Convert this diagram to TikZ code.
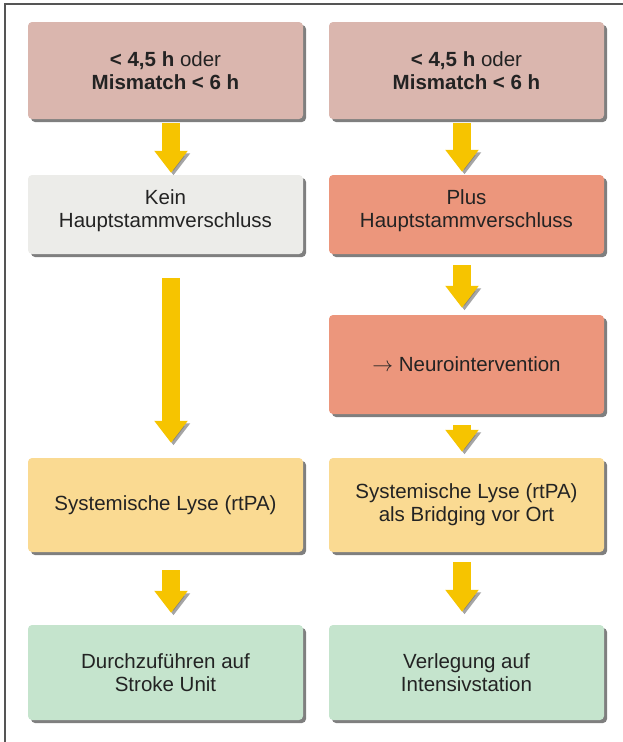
\documentclass[tikz,border=0pt]{standalone}
\usepackage{fontspec}
\setmainfont{Liberation Sans}
\usetikzlibrary{arrows.meta,shadows}
\definecolor{rosa}{RGB}{218,182,174}
\definecolor{hellgrau}{RGB}{236,236,233}
\definecolor{lachs}{RGB}{236,150,124}
\definecolor{sandgelb}{RGB}{250,218,146}
\definecolor{mintgruen}{RGB}{197,228,205}
\definecolor{pfeilgelb}{RGB}{246,196,0}
\definecolor{schatten}{RGB}{105,105,105}
\definecolor{rahmen}{RGB}{85,85,85}
\definecolor{schrift}{RGB}{35,35,35}

\begin{document}
\begin{tikzpicture}[x=1pt,y=-1pt,
    kasten/.style={rounded corners=4pt, minimum width=275pt, align=center,
        font=\fontsize{20.5}{23}\selectfont, text=schrift, inner sep=0pt,
        drop shadow={shadow xshift=3pt, shadow yshift=-3pt, fill=schatten, opacity=0.85}},
    pfeil/.style={line width=18pt, draw=pfeilgelb, -{Triangle[width=32pt,length=22pt]},
        preaction={draw=schatten, opacity=0.6, transform canvas={shift={(2.5pt,-2.5pt)}}}}]
    \useasboundingbox (0,0) rectangle (623,742);
    % frame, only top and left edge visible
    \draw[rahmen, line width=1.5pt] (623,4) -- (5,4) -- (5,742);

    % first row - time window
    \node[kasten, fill=rosa, minimum height=97pt] (zeitL) at (165.5,70.5)
        {\textbf{< 4,5 h} oder\\\textbf{Mismatch < 6 h}};
    \node[kasten, fill=rosa, minimum height=97pt] (zeitR) at (466.5,70.5)
        {\textbf{< 4,5 h} oder\\\textbf{Mismatch < 6 h}};

    % second row - occlusion
    \node[kasten, fill=hellgrau, minimum height=79pt] (kein) at (165.5,214.5)
        {Kein\\Hauptstammverschluss\vphantom{p}\\[-18pt]\strut};
    \node[kasten, fill=lachs, minimum height=79pt] (plus) at (466.5,214.5)
        {Plus\\Hauptstammverschluss\vphantom{p}\\[-18pt]\strut};

    % neurointervention, right only
    \node[kasten, fill=lachs, minimum height=99pt] (neuro) at (466.5,364.5)
        {$\rightarrow$ Neurointervention};

    % lysis
    \node[kasten, fill=sandgelb, minimum height=94pt] (lyseL) at (165.5,505)
        {Systemische Lyse (rtPA)};
    \node[kasten, fill=sandgelb, minimum height=94pt] (lyseR) at (466.5,505)
        {Systemische Lyse (rtPA)\\als Bridging vor Ort};

    % where to treat
    \node[kasten, fill=mintgruen, minimum height=95pt] (strokeunit) at (165.5,672.5)
        {Durchzuführen auf\\Stroke Unit};
    \node[kasten, fill=mintgruen, minimum height=95pt] (intensiv) at (466.5,672.5)
        {Verlegung auf\\Intensivstation};

    % arrows left
    \draw[pfeil, shorten <=4pt, shorten >=2pt] ([xshift=5.5pt]zeitL.south) -- ([xshift=5.5pt]kein.north);
    \draw[pfeil, shorten <=24pt, shorten >=15pt] ([xshift=5.5pt]kein.south) -- ([xshift=5.5pt]lyseL.north);
    \draw[pfeil, shorten <=18pt, shorten >=12pt] ([xshift=5.5pt]lyseL.south) -- ([xshift=5.5pt]strokeunit.north);

    % arrows right
    \draw[pfeil, shorten <=4pt, shorten >=3pt] ([xshift=-4.5pt]zeitR.south) -- ([xshift=-4.5pt]plus.north);
    \draw[pfeil, shorten <=11pt, shorten >=7pt] ([xshift=-4.5pt]plus.south) -- ([xshift=-4.5pt]neuro.north);
    \draw[pfeil, shorten <=11pt, shorten >=6pt] ([xshift=-4.5pt]neuro.south) -- ([xshift=-4.5pt]lyseR.north);
    \draw[pfeil, shorten <=10pt, shorten >=13pt] ([xshift=-4.5pt]lyseR.south) -- ([xshift=-4.5pt]intensiv.north);
\end{tikzpicture}
\end{document}
